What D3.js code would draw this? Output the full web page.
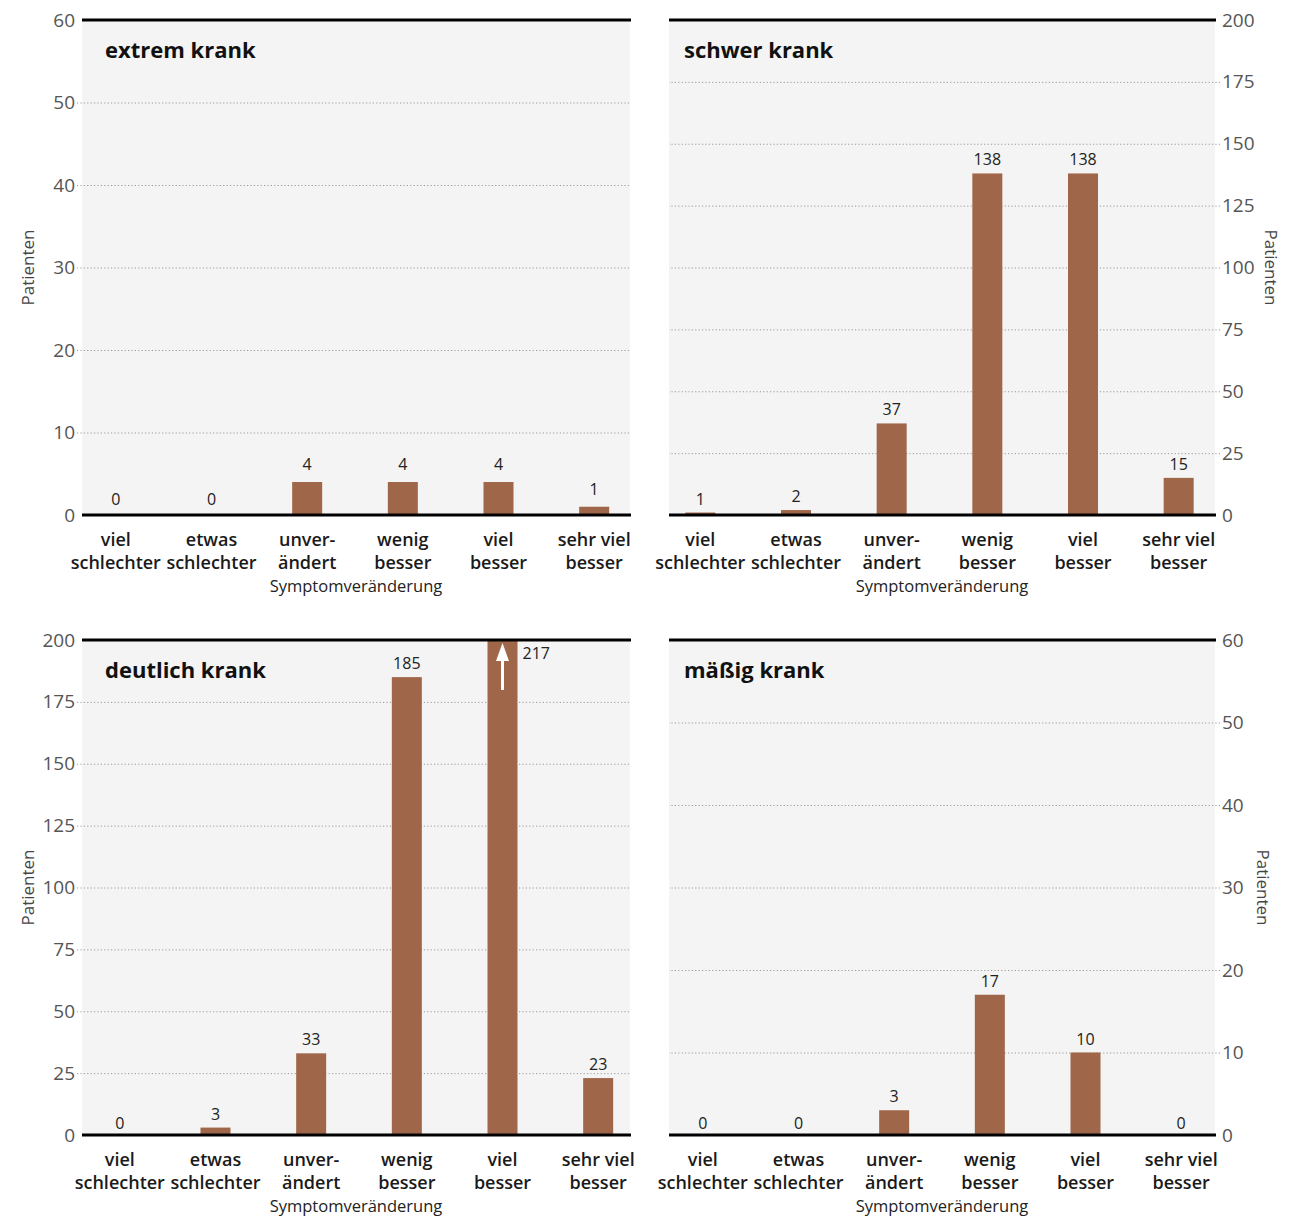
<!DOCTYPE html>
<html><head><meta charset="utf-8">
<script src="https://cdn.jsdelivr.net/npm/d3@7"></script>
<style>
html,body{margin:0;padding:0;background:#fff;}
svg{display:block;font-family:"Open Sans","Noto Sans",sans-serif;}
</style></head>
<body><svg id="chart" width="1307" height="1219"></svg>
<script>
// ---- data ----
const categories = ["viel schlechter","etwas schlechter","unverändert","wenig besser","viel besser","sehr viel besser"];
const categoryLines = [["viel","schlechter"],["etwas","schlechter"],["unver-","ändert"],["wenig","besser"],["viel","besser"],["sehr viel","besser"]];
const panelTitles = ["extrem krank","schwer krank","deutlich krank","mäßig krank"];
const extremValues = [0,0,4,4,4,1];
const schwerValues = [1,2,37,138,138,15];
const deutlichValues = [0,3,33,185,217,23];
const maessigValues = [0,0,3,17,10,0];
const ticks60 = [0,10,20,30,40,50,60];
const ticks200 = [0,25,50,75,100,125,150,175,200];
const xAxisTitle = "Symptomveränderung";
const yAxisTitle = "Patienten";

// ---- layout ----
const panels = [
  {title:panelTitles[0], values:extremValues, ticks:ticks60, max:60, x0:82, x1:630, yTop:20, yBot:515, side:"left", titleDx:23, yLabX:34, xShift:0, valGap:12},
  {title:panelTitles[1], values:schwerValues, ticks:ticks200, max:200, x0:669, x1:1215, yTop:20, yBot:515, side:"right", titleDx:15, yLabX:1265, xShift:-2.5, valGap:8},
  {title:panelTitles[2], values:deutlichValues, ticks:ticks200, max:200, x0:82, x1:630, yTop:640, yBot:1135, side:"left", titleDx:23, yLabX:34, xShift:4, valGap:8},
  {title:panelTitles[3], values:maessigValues, ticks:ticks60, max:60, x0:669, x1:1215, yTop:640, yBot:1135, side:"right", titleDx:15, yLabX:1257, xShift:0, valGap:8}
];

const svg = d3.select("#chart");
const barColor = "#a0664a";
const bgColor = "#f3f4f3";
const barW = 30;

panels.forEach(p => {
  const g = svg.append("g");
  const y = d3.scaleLinear().domain([0,p.max]).range([p.yBot,p.yTop]);
  const x = d3.scaleBand().domain(categories).range([p.x0-14+p.xShift, p.x0+560+p.xShift]).padding(0);
  const cx = c => x(c) + x.bandwidth()/2;
  const w = p.x1 - p.x0;

  g.append("rect").attr("x",p.x0).attr("y",p.yTop).attr("width",w).attr("height",p.yBot-p.yTop).attr("fill",bgColor);

  // y axis with gridlines
  const axis = (p.side==="left" ? d3.axisLeft(y) : d3.axisRight(y))
    .tickValues(p.ticks).tickSizeOuter(0).tickSizeInner(-w).tickPadding(7);
  const ag = g.append("g")
    .attr("transform",`translate(${p.side==="left"?p.x0:p.x1},0)`)
    .call(axis);
  ag.select(".domain").remove();
  ag.selectAll(".tick line")
    .attr("x1", p.side==="left" ? -5 : 5)
    .attr("stroke","#9a9a9a").attr("stroke-width",1).attr("stroke-dasharray","1.2,2.2")
    .attr("opacity", d => (d===0 || d===p.max) ? 0 : 1);
  ag.selectAll(".tick text")
    .attr("font-size",19).attr("fill","#555").attr("font-weight",400)
    .attr("font-family",'"Open Sans",sans-serif');

  // bars
  const cy = v => y(Math.min(v,p.max));
  g.selectAll("rect.bar").data(p.values).enter().append("rect")
    .attr("class","bar")
    .attr("x",(d,i)=>cx(categories[i]) - barW/2)
    .attr("y",d=>cy(d))
    .attr("width",barW)
    .attr("height",d=>p.yBot-cy(d))
    .attr("fill",barColor);

  // value labels
  g.selectAll("text.val").data(p.values).enter().append("text")
    .attr("class","val")
    .attr("x",(d,i)=> d>p.max ? cx(categories[i]) + barW/2 + 5 : cx(categories[i]))
    .attr("y",d=> d>p.max ? p.yTop + 19 : Math.min(cy(d), p.yBot-1.5) - p.valGap + (d===0 ? 3 : 0))
    .attr("text-anchor",d=> d>p.max ? "start" : "middle")
    .attr("font-size",16).attr("fill","#222")
    .text(d=>d);

  // overflow arrows
  p.values.forEach((d,i)=>{
    if (d>p.max){
      const ax = cx(categories[i]);
      g.append("line").attr("x1",ax).attr("x2",ax).attr("y1",p.yTop+50).attr("y2",p.yTop+18)
        .attr("stroke","#fff").attr("stroke-width",3);
      g.append("path").attr("d",`M${ax},${p.yTop+3} L${ax-6.5},${p.yTop+21} L${ax+6.5},${p.yTop+21} Z`).attr("fill","#fff");
    }
  });

  // top and bottom lines
  g.append("line").attr("x1",p.x0).attr("x2",p.x1+1).attr("y1",p.yTop).attr("y2",p.yTop).attr("stroke","#000").attr("stroke-width",3);
  g.append("line").attr("x1",p.x0).attr("x2",p.x1+1).attr("y1",p.yBot).attr("y2",p.yBot).attr("stroke","#000").attr("stroke-width",3);

  // title
  g.append("text").attr("x",p.x0+p.titleDx).attr("y",p.yTop+38)
    .attr("font-size",22).attr("font-weight",700).attr("fill","#111").text(p.title);

  // category labels (one text per line)
  categories.forEach((c,i)=>{
    categoryLines[i].forEach((ln,j)=>{
      g.append("text").attr("text-anchor","middle").attr("font-size",18).attr("font-weight",600)
        .attr("fill","#1a1a1a")
        .attr("x",cx(c)).attr("y",p.yBot+31+j*22.5).text(ln);
    });
  });

  // x axis title
  g.append("text").attr("x",(p.x0+p.x1)/2).attr("y",p.yBot+77).attr("text-anchor","middle")
    .attr("font-size",16.5).attr("fill","#222").text(xAxisTitle);

  // y axis title
  const my = (p.yTop+p.yBot)/2;
  g.append("text").attr("text-anchor","middle")
    .attr("transform",`translate(${p.yLabX},${my}) rotate(${p.side==="left"?-90:90})`)
    .attr("font-size",17).attr("fill","#444").text(yAxisTitle);
});
</script>
</body></html>
